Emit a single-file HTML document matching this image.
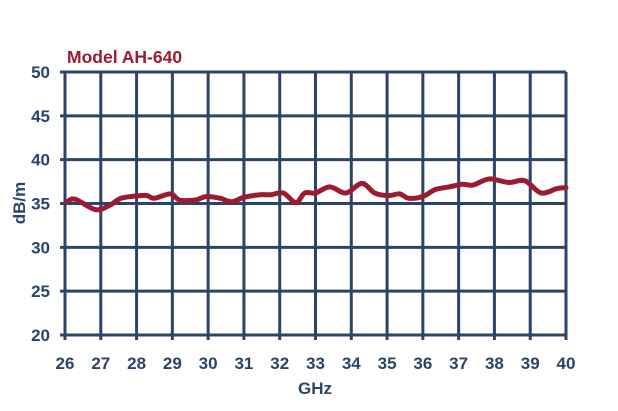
<!DOCTYPE html>
<html><head><meta charset="utf-8"><style>
html,body{margin:0;padding:0;background:#fff;}
svg{display:block;font-family:"Liberation Sans",sans-serif;font-weight:bold;}
</style></head><body>
<svg id="chart" width="618" height="411" viewBox="0 0 618 411">
<text x="67" y="63" fill="#9b1b30" font-size="17.5">Model AH-640</text>
<g id="grid"></g>
<g id="xt"></g>
<g id="yt"></g>
<text x="315" y="394" text-anchor="middle" fill="#2c4468" font-size="17">GHz</text>
<text transform="translate(25,203) rotate(-90)" text-anchor="middle" fill="#2c4468" font-size="17">dB/m</text>
<path id="line" fill="none" stroke="#9b1b30" stroke-width="5" stroke-linejoin="round" stroke-linecap="round"></path>
</svg>
<script>
const xTicks=[26,27,28,29,30,31,32,33,34,35,36,37,38,39,40];
const yTicks=[20,25,30,35,40,45,50];
const freqs=[26.05,26.28,26.85,27.25,27.57,28.1,28.3,28.5,28.95,29.2,29.65,29.95,30.33,30.65,31.0,31.45,31.75,32.1,32.45,32.7,33.0,33.4,33.85,34.3,34.65,35.05,35.35,35.6,36.0,36.35,36.75,37.1,37.4,37.85,38.4,38.85,39.3,39.75,40.0];
const gains=[35.15,35.5,34.3,34.8,35.6,35.9,35.9,35.6,36.1,35.4,35.4,35.8,35.6,35.2,35.7,36.0,36.0,36.2,35.1,36.2,36.2,36.9,36.2,37.3,36.2,35.9,36.1,35.6,35.8,36.6,36.9,37.2,37.1,37.8,37.4,37.6,36.2,36.7,36.8];
const X0=65,X1=566,Y0=335,Y1=72;
const xs=v=>X0+(v-26)/(40-26)*(X1-X0);
const ys=v=>Y0-(v-20)/(50-20)*(Y0-Y1);
const NS="http://www.w3.org/2000/svg";
const grid=document.getElementById('grid'),xt=document.getElementById('xt'),yt=document.getElementById('yt');
function ln(x1,y1,x2,y2){const l=document.createElementNS(NS,'line');l.setAttribute('x1',x1);l.setAttribute('y1',y1);l.setAttribute('x2',x2);l.setAttribute('y2',y2);l.setAttribute('stroke','#2c4468');l.setAttribute('stroke-width','3');return l;}
xTicks.forEach(t=>{const l=ln(xs(t),Y1,xs(t),Y0+5);


grid.appendChild(l);
const tx=document.createElementNS(NS,'text');tx.setAttribute('x',xs(t));tx.setAttribute('y',Y0+34);tx.setAttribute('text-anchor','middle');tx.setAttribute('fill','#2c4468');tx.setAttribute('font-size','17');tx.textContent=t;


xt.appendChild(tx);});
yTicks.forEach(t=>{const l=ln(X0-5,ys(t),X1,ys(t));


grid.appendChild(l);
const tx=document.createElementNS(NS,'text');tx.setAttribute('x',X0-15);tx.setAttribute('y',ys(t)+6);tx.setAttribute('text-anchor','end');tx.setAttribute('fill','#2c4468');tx.setAttribute('font-size','17');tx.textContent=t;


yt.appendChild(tx);});
const P=freqs.map((f,i)=>[xs(f),ys(gains[i])]);
let d='M'+P[0][0]+','+P[0][1];
for(let i=0;i<P.length-1;i++){const p0=P[i-1]||P[i],p1=P[i],p2=P[i+1],p3=P[i+2]||p2;
d+=' C'+(p1[0]+(p2[0]-p0[0])/6)+','+(p1[1]+(p2[1]-p0[1])/6)+' '+(p2[0]-(p3[0]-p1[0])/6)+','+(p2[1]-(p3[1]-p1[1])/6)+' '+p2[0]+','+p2[1];}
document.getElementById('line').setAttribute('d',d);
</script>
</body></html>
